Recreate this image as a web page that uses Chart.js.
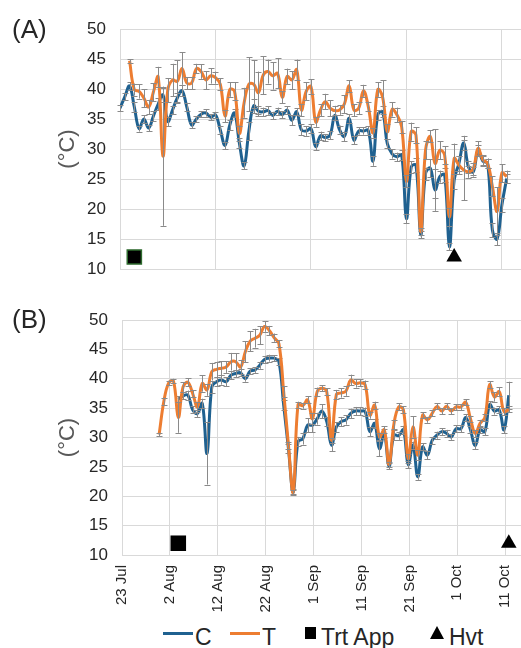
<!DOCTYPE html>
<html><head><meta charset="utf-8">
<script src="https://cdn.jsdelivr.net/npm/chart.js@4"></script>
<style>
body{margin:0;background:#fff}
#wrap{position:relative;width:521px;height:648px;overflow:hidden;font-family:"Liberation Sans",Arial,sans-serif;color:#262626}
.pl{position:absolute;font-size:26px;line-height:1}
.lg{position:absolute;font-size:23px;line-height:1;top:626px}
.ln{position:absolute;height:3px;top:632px}
canvas{position:absolute;left:0}
</style></head>
<body><div id="wrap">
<canvas id="ca" width="521" height="285" style="top:0"></canvas>
<canvas id="cb" width="521" height="330" style="top:290px"></canvas>
<div class="pl" style="left:12px;top:16px">(A)</div>
<div class="pl" style="left:12px;top:306px">(B)</div>
<div class="ln" style="left:163px;width:30px;background:#1f6190"></div>
<div class="lg" style="left:195px">C</div>
<div class="ln" style="left:230px;width:30px;background:#ed7d31"></div>
<div class="lg" style="left:262px">T</div>
<div style="position:absolute;left:305px;top:627px;width:11px;height:12px;background:#000"></div>
<div class="lg" style="left:321px">Trt App</div>
<div style="position:absolute;left:430px;top:626px;width:0;height:0;border-left:7px solid transparent;border-right:7px solid transparent;border-bottom:13px solid #000"></div>
<div class="lg" style="left:449px">Hvt</div>
</div>
<script>
const FONT = '"Liberation Sans", Arial, sans-serif';
const tickLabels = ['23 Jul','2 Aug','12 Aug','22 Aug','1 Sep','11 Sep','21 Sep','1 Oct','11 Oct'];
const markerLevel = 12;

// Panel A (day index 0 = 23 Jul)
const cAStart = 0;
const cA = [36.8,38.7,40.5,37.0,33.4,35.0,33.5,35.5,37.5,39.0,
 34.6,36.5,38.5,39.7,37.0,34.0,35.0,35.8,36.0,35.3,
 35.7,33.2,30.6,34.0,36.0,31.0,27.2,33.0,37.2,36.3,
 36.2,36.4,35.6,36.3,35.7,36.5,34.8,36.2,33.2,33.0,
 33.4,30.4,32.2,31.9,32.3,35.6,33.2,32.1,35.1,31.5,
 33.0,33.0,33.1,28.0,35.7,36.2,30.9,29.2,28.7,29.0,
 18.4,27.0,27.3,15.7,25.9,26.8,23.2,25.4,25.7,13.7,
 24.8,27.6,31.0,27.0,26.2,29.8,28.0,27.6,16.5,15.0,
 20.7,25.1];
const cAErr = [0.5,0.6,0.6,0.8,0.5,0.6,0.5,0.8,1.0,1.2,
 0.8,0.7,0.8,0.9,0.6,0.5,0.5,0.5,0.6,0.5,
 0.5,0.7,0.6,0.8,0.7,0.9,0.6,1.5,1.2,0.8,
 0.7,0.7,0.6,0.6,0.6,0.6,0.8,0.6,0.9,0.8,
 0.7,0.6,0.7,0.6,0.7,0.8,0.7,0.8,0.7,0.7,
 0.6,0.6,0.7,0.8,0.8,0.9,0.8,0.8,0.7,0.8,
 0.8,1.0,1.2,0.6,1.0,1.5,3.5,1.0,1.2,0.6,
 1.5,1.2,1.2,1.0,0.8,0.8,0.8,0.8,1.2,1.0,
 1.2,0.8];
const tAStart = 2;
const tA = [44.7,39.9,39.6,38.5,37.0,39.5,42.0,28.8,
 39.8,41.5,41.3,43.4,41.0,41.0,43.4,42.9,41.5,42.2,
 41.9,40.8,35.5,39.9,39.6,32.6,37.7,40.8,40.8,39.4,
 42.3,42.9,42.2,42.6,38.6,42.1,41.5,43.2,36.5,39.6,
 40.4,34.5,36.5,37.9,36.8,36.4,36.5,37.5,40.5,36.5,
 36.8,39.7,37.1,32.7,39.9,38.7,32.9,36.6,35.7,33.7,
 24.6,32.9,32.3,16.2,29.8,32.1,27.6,29.8,29.0,18.7,
 28.4,27.3,26.5,26.2,26.7,30.1,28.2,27.6,23.8,19.6,
 26.0,25.4];
const tAErr = [0.3,1.0,1.2,1.5,1.2,1.5,1.7,11.6,
 2.0,2.7,3.5,2.7,1.0,1.0,0.8,1.2,1.5,1.3,
 1.0,1.0,1.0,1.2,1.5,1.3,2.5,4.5,4.0,3.5,
 3.2,2.0,2.3,2.5,1.0,1.3,1.5,1.7,1.0,1.5,
 1.2,0.8,1.0,1.3,1.3,0.8,0.8,1.5,1.0,1.0,
 1.0,1.0,0.8,0.8,1.2,2.8,1.2,1.2,1.2,1.0,
 1.0,1.5,1.3,0.6,1.5,1.0,5.7,1.5,1.5,1.5,
 2.5,1.5,5.0,1.0,1.0,1.2,0.8,0.8,1.7,4.0,
 1.5,1.0];
const trtAppA = [3];
const hvtA = [70];

// Panel B (readings logged late in the day)
const bOffset = 0.75;
const tBStart = 7;
const tB = [30.5,36.2,39.3,
 39.6,33.4,38.6,39.4,37.5,35.2,39.2,38.1,41.2,41.6,
 41.8,42.0,42.9,42.9,42.0,44.6,46.4,46.9,47.4,48.9,
 48.2,47.0,46.0,37.8,28.7,20.7,35.6,35.4,36.4,33.2,
 37.8,38.4,37.8,29.5,37.3,37.6,37.9,39.8,39.2,39.3,
 39.0,33.8,35.5,30.1,31.3,25.4,32.2,35.2,34.7,26.4,
 31.8,27.0,33.8,33.0,34.1,35.3,34.5,35.3,34.5,35.2,
 35.2,36.0,33.2,30.7,32.4,33.4,39.0,36.9,37.8,34.4,
 34.8];
const tBErr = [0.3,0.6,0.4,
 0.4,2.6,0.8,0.7,0.6,0.8,1.4,1.0,1.5,1.3,
 1.2,1.0,1.5,1.4,1.2,1.8,1.7,1.6,1.5,0.9,
 0.8,0.7,0.6,0.9,0.6,0.4,0.5,0.5,0.6,0.9,
 0.7,0.5,0.6,0.5,0.8,0.8,0.8,0.9,0.7,0.6,
 0.7,0.6,0.6,0.6,0.6,0.5,0.8,0.6,0.6,0.8,
 1.8,0.8,0.5,0.5,0.5,0.5,0.5,0.5,0.5,0.5,
 0.5,0.5,0.5,0.6,0.6,0.6,0.6,0.8,0.8,0.6,
 0.5];
const cBStart = 11;
const cB = [36.5,37.1,37.2,34.7,34.1,35.8,27.3,38.6,39.5,
 39.8,39.5,40.6,40.9,41.0,40.0,41.3,41.5,42.3,43.3,
 43.5,43.5,42.9,35.5,28.1,20.7,29.3,29.8,32.1,32.1,
 33.2,34.5,32.7,28.7,31.8,32.7,33.0,34.1,34.5,34.5,
 34.4,31.0,32.4,28.1,30.7,25.1,30.4,30.3,31.3,25.4,
 28.7,23.3,28.4,27.0,29.5,30.4,31.0,30.7,30.1,31.5,
 31.5,33.4,31.3,28.6,31.3,31.0,35.6,34.5,34.7,31.3,
 37.2];
const cBErr = [0.5,0.6,0.8,0.6,0.6,0.8,5.3,1.0,0.8,
 0.8,0.8,0.7,0.6,0.6,0.5,0.5,0.5,0.6,0.6,
 0.6,0.5,0.6,0.9,0.8,0.5,0.8,1.0,1.2,1.2,
 1.0,1.2,0.8,1.0,0.8,0.8,0.8,0.8,0.7,0.7,
 0.7,0.8,0.8,1.3,0.8,0.5,0.8,0.7,0.7,0.6,
 0.6,0.5,0.6,0.7,0.6,0.6,0.6,0.6,0.5,0.6,
 0.6,0.6,0.6,0.6,0.6,0.6,0.6,0.6,0.6,0.6,
 2.3];
const trtAppB = [11];
const hvtB = [80];

const BLUE = '#1f6190', ORANGE = '#ed7d31', GRID = '#d9d9d9';

function pts(start, vals, off) { return vals.map((v, i) => ({x: start + i + off, y: v})); }
function marks(days, off) { return days.map(d => ({x: d + off, y: markerLevel})); }

const errorBars = {
  id: 'errorBars',
  afterDatasetDraw(chart, args) {
    const ds = chart.data.datasets[args.index];
    if (!ds.errors) return;
    const ctx = chart.ctx, ys = chart.scales.y;
    ctx.save();
    ctx.strokeStyle = '#8a8a8a';
    ctx.lineWidth = 1;
    args.meta.data.forEach((el, i) => {
      const e = ds.errors[i], v = ds.data[i].y;
      if (e == null || v == null) return;
      const x = Math.round(el.x) + 0.5;
      const y1 = ys.getPixelForValue(v + e), y2 = ys.getPixelForValue(v - e);
      ctx.beginPath();
      ctx.moveTo(x, y1); ctx.lineTo(x, y2);
      ctx.moveTo(x - 3, Math.round(y1) + 0.5); ctx.lineTo(x + 3, Math.round(y1) + 0.5);
      ctx.moveTo(x - 3, Math.round(y2) + 0.5); ctx.lineTo(x + 3, Math.round(y2) + 0.5);
      ctx.stroke();
    });
    ctx.restore();
  }
};

function lineDs(label, data, errors, color, order) {
  return {label, data, errors, borderColor: color, backgroundColor: color, borderWidth: 3,
    pointRadius: 0, tension: 0.4, fill: false, order};
}

function yScale(width) {
  return {
    min: 10, max: 50,
    ticks: {stepSize: 5, color: '#262626', font: {size: 17, family: FONT}, padding: 14},
    grid: {color: GRID, drawTicks: false},
    border: {color: GRID},
    title: {display: true, text: '(°C)', color: '#595959', font: {size: 22, family: FONT}, padding: {top: 55, bottom: 0}},
    afterFit(s) { s.width = width; s.paddingTop = 0; s.paddingBottom = 0; }
  };
}

new Chart(document.getElementById('ca'), {
  type: 'line',
  data: {datasets: [
    {label: 'Trt App', data: marks(trtAppA, 0), showLine: false, pointStyle: 'rect', pointRadius: 10,
     backgroundColor: '#000', borderColor: '#2e6b2e', borderWidth: 1.5, order: 0},
    {label: 'Hvt', data: marks(hvtA, 0), showLine: false, pointStyle: 'triangle', pointRadius: 9,
     backgroundColor: '#000', borderColor: '#000', borderWidth: 0, order: 0},
    lineDs('T', pts(tAStart, tA, 0), tAErr, ORANGE, 1),
    lineDs('C', pts(cAStart, cA, 0), cAErr, BLUE, 2)
  ]},
  options: {
    responsive: false, animation: false,
    layout: {autoPadding: false, padding: {top: 29, right: 0, bottom: 16, left: 0}},
    plugins: {legend: {display: false}, tooltip: {enabled: false}},
    scales: {
      x: {type: 'linear', min: 0, max: 84,
          ticks: {display: false, stepSize: 20, includeBounds: false},
          grid: {color: GRID, drawTicks: false}, border: {color: GRID},
          afterFit(s) { s.height = 0; s.paddingLeft = 0; s.paddingRight = 0; }},
      y: yScale(120)
    }
  },
  plugins: [errorBars]
});

new Chart(document.getElementById('cb'), {
  type: 'line',
  data: {datasets: [
    {label: 'Trt App', data: marks(trtAppB, bOffset), showLine: false, pointStyle: 'rect', pointRadius: 11,
     backgroundColor: '#000', borderColor: '#000', borderWidth: 0, order: 0},
    {label: 'Hvt', data: marks(hvtB, bOffset), showLine: false, pointStyle: 'triangle', pointRadius: 9,
     backgroundColor: '#000', borderColor: '#000', borderWidth: 0, order: 0},
    lineDs('T', pts(tBStart, tB, bOffset), tBErr, ORANGE, 1),
    lineDs('C', pts(cBStart, cB, bOffset), cBErr, BLUE, 2)
  ]},
  options: {
    responsive: false, animation: false,
    layout: {autoPadding: false, padding: {top: 30, right: 0, bottom: 0, left: 0}},
    plugins: {legend: {display: false}, tooltip: {enabled: false}},
    scales: {
      x: {type: 'linear', min: 0, max: 83.3,
          ticks: {stepSize: 10, includeBounds: false, minRotation: 90, maxRotation: 90, autoSkip: false,
                  color: '#262626', font: {size: 15, family: FONT}, padding: 10,
                  callback: v => tickLabels[Math.round(v / 10)]},
          grid: {color: GRID, drawTicks: false}, border: {color: GRID},
          afterFit(s) { s.height = 65; s.paddingLeft = 0; s.paddingRight = 0; }},
      y: yScale(122)
    }
  },
  plugins: [errorBars]
});
</script>
</body></html>
